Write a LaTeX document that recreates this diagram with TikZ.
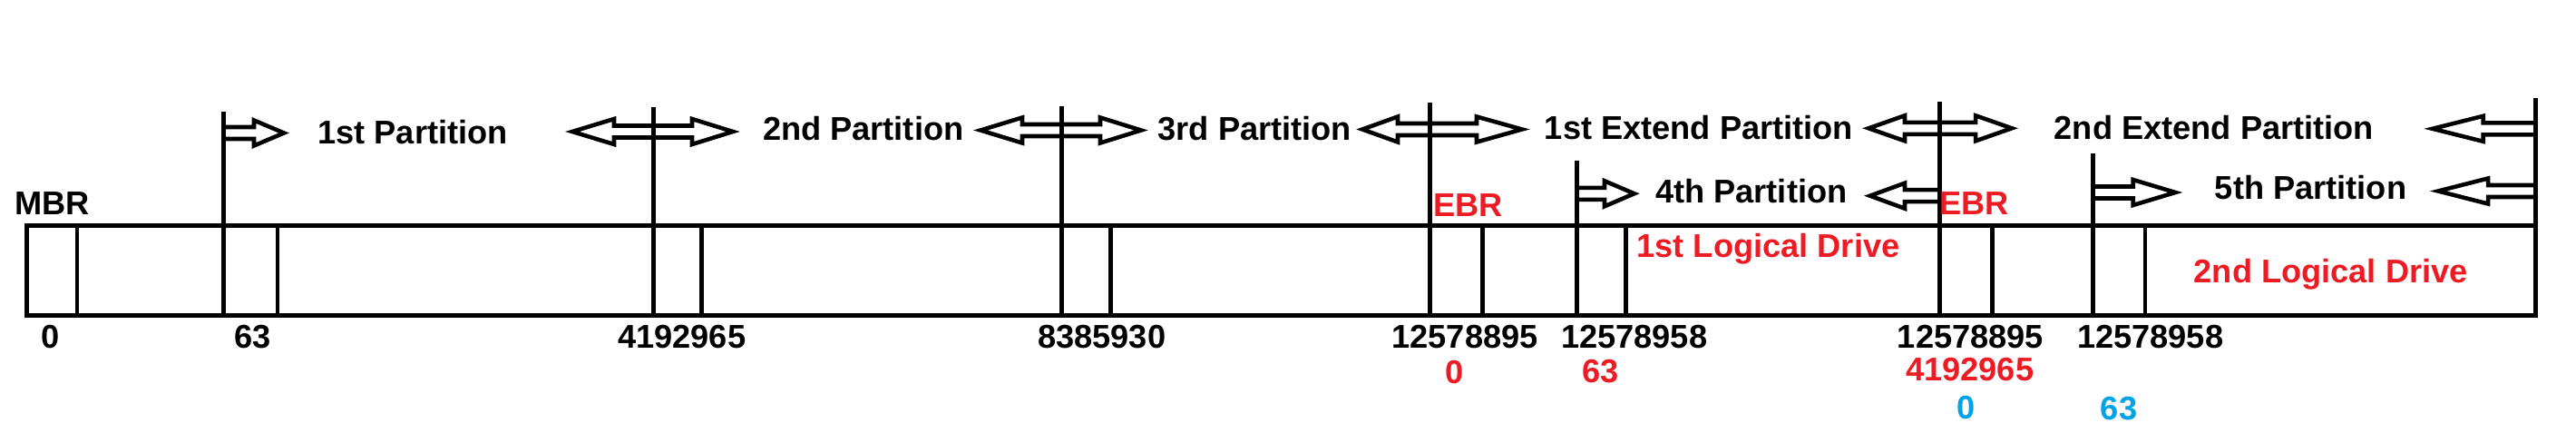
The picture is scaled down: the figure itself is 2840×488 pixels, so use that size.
\documentclass[tikz,border=0pt]{standalone}
\usepackage{fontspec}
\setmainfont{Liberation Sans}
\definecolor{ebrred}{RGB}{237,28,36}
\definecolor{lbablue}{RGB}{0,162,232}
\begin{document}
\begin{tikzpicture}[x=0.01cm,y=-0.01cm,line width=1.3pt]
                \tikzstyle{every node}+=[inner sep=0pt,anchor=base,font=\fontsize{10.3}{12}\selectfont\bfseries]
                \useasboundingbox (0,0) rectangle (2840,488);
                % disk
                \draw [black] (29.3,248.3) rectangle (2795.7,347.3);
                \draw (57.5,236.7) node (mbr) {MBR};
                % block arrows, top row
                \draw [black] (246.7,140) -- (280,140) -- (280,132.5) -- (313,146.5) -- (280,160.5) -- (280,153) -- (246.7,153);
                \draw [black] (631,145) -- (677,131) -- (677,138.5) -- (763,138.5) -- (763,131) -- (808,145) -- (763,159) -- (763,151.5) -- (677,151.5) -- (677,159) -- cycle;
                \draw [black] (1081,143.5) -- (1127,129.5) -- (1127,137) -- (1213,137) -- (1213,129.5) -- (1258,143.5) -- (1213,157.5) -- (1213,150) -- (1127,150) -- (1127,157.5) -- cycle;
                \draw [black] (1502,142.5) -- (1541,128.5) -- (1541,136) -- (1628,136) -- (1628,128.5) -- (1678,142.5) -- (1628,156.5) -- (1628,149) -- (1541,149) -- (1541,156.5) -- cycle;
                \draw [black] (2060,141.3) -- (2100,127.3) -- (2100,134.8) -- (2178,134.8) -- (2178,127.3) -- (2218,141.3) -- (2178,155.3) -- (2178,147.8) -- (2100,147.8) -- (2100,155.3) -- cycle;
                \draw [black] (2795.7,135.3) -- (2737.7,135.3) -- (2737.7,127.8) -- (2681.7,141.8) -- (2737.7,155.8) -- (2737.7,148.3) -- (2795.7,148.3);
                % block arrows, lower row
                \draw [black] (1738.3,206.8) -- (1769,206.8) -- (1769,199.3) -- (1801.7,213.3) -- (1769,227.3) -- (1769,219.8) -- (1738.3,219.8);
                \draw [black] (2138.3,209.2) -- (2100,209.2) -- (2100,201.7) -- (2061.7,215.7) -- (2100,229.7) -- (2100,222.2) -- (2138.3,222.2);
                \draw [black] (2307.3,205.5) -- (2351.7,205.5) -- (2351.7,198) -- (2398.3,212) -- (2351.7,226) -- (2351.7,218.5) -- (2307.3,218.5);
                \draw [black] (2795.7,204) -- (2743,204) -- (2743,196.5) -- (2688,210.5) -- (2743,224.5) -- (2743,217) -- (2795.7,217);
                % tall boundaries
                \draw [black] (246.7,123.3) -- (246.7,347.3);
                \draw [black] (720.7,118.3) -- (720.7,347.3);
                \draw [black] (1170.7,116.7) -- (1170.7,347.3);
                \draw [black] (1576.7,113.3) -- (1576.7,347.3);
                \draw [black] (1738.3,176.7) -- (1738.3,347.3);
                \draw [black] (2138.3,111.7) -- (2138.3,347.3);
                \draw [black] (2307.3,169) -- (2307.3,347.3);
                \draw [black] (2795.7,108) -- (2795.7,347.3);
                % short boundaries
                \draw [black] (85,248.3) -- (85,347.3);
                \draw [black] (306,248.3) -- (306,347.3);
                \draw [black] (773.3,248.3) -- (773.3,347.3);
                \draw [black] (1224.3,248.3) -- (1224.3,347.3);
                \draw [black] (1634.3,248.3) -- (1634.3,347.3);
                \draw [black] (1792.3,248.3) -- (1792.3,347.3);
                \draw [black] (2196.7,248.3) -- (2196.7,347.3);
                \draw [black] (2365,248.3) -- (2365,347.3);
                % partition names
                \draw (455,158.3) node (part1) {1st Partition};
                \draw (951.7,155) node (part2) {2nd Partition};
                \draw (1383.3,155) node (part3) {3rd Partition};
                \draw (1873,153.3) node (ext1) {1st Extend Partition};
                \draw (2440.8,153.3) node (ext2) {2nd Extend Partition};
                \draw (1930.8,223.3) node (part4) {4th Partition};
                \draw (2547.5,219.3) node (part5) {5th Partition};
                \draw [ebrred] (1618.8,238.3) node (ebr1) {EBR};
                \draw [ebrred] (2176.5,236) node (ebr2) {EBR};
                \draw [ebrred] (1949.5,283.3) node (drive1) {1st Logical Drive};
                \draw [ebrred] (2569.7,311.7) node (drive2) {2nd Logical Drive};
                % sector numbers
                \draw (56,383.5) node (sec0) {0};
                \draw (278.7,383.5) node (sec63) {63};
                \draw (751.7,383.5) node (secA) {4192965};
                \draw (1214.7,383.5) node (secB) {8385930};
                \draw (1615,383.5) node (secC) {12578895};
                \draw (1801.7,383.5) node (secD) {12578958};
                \draw (2172.5,383.5) node (secE) {12578895};
                \draw (2370.6,383.5) node (secF) {12578958};
                \draw [ebrred] (1604,422) node (rel0) {0};
                \draw [ebrred] (1764.7,421) node (rel63) {63};
                \draw [ebrred] (2171.7,419.5) node (relA) {4192965};
                \draw [lbablue] (2167.5,461.5) node (sub0) {0};
                \draw [lbablue] (2336,462) node (sub63) {63};
            \end{tikzpicture}
\end{document}
